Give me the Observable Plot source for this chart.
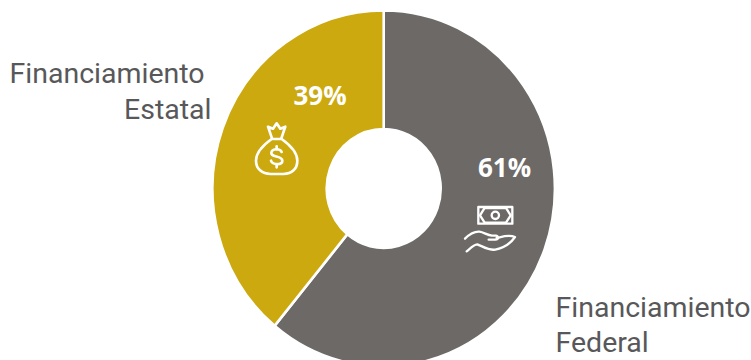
<!DOCTYPE html>
<html>
<head>
<meta charset="utf-8">
<script src="https://cdn.jsdelivr.net/npm/d3@7"></script>
<script src="https://cdn.jsdelivr.net/npm/@observablehq/plot@0.6"></script>
<style>
html,body{margin:0;padding:0;background:#fff;overflow:hidden}
svg{display:block}
</style>
</head>
<body>
<div id="chart"></div>
<script>
const categories = ["Financiamiento Federal", "Financiamiento Estatal"];
const shares = [61, 39];
const colors = ["#6d6967", "#cca90f"];
const pctLabels = ["61%", "39%"];

const W = 751, H = 360;
const C = {x: 383.7, y: 188.5, rx: 171.2, ry: 178.2, inner: 57};
const slices = categories.map((name, i) => ({name, share: shares[i]}));

const startRows = [
  {t: "Financiamiento", x: 9, y: 82},
  {t: "Financiamiento", x: 555, y: 316},
  {t: "Federal", x: 555, y: 351}
];
const endRows = [
  {t: "Estatal", x: 211, y: 118}
];
const pctRows = [
  {t: pctLabels[0], x: 504, y: 176},
  {t: pctLabels[1], x: 319.5, y: 104}
];

const bagIcon = `
<g transform="translate(240,70) scale(0.3333)" fill="none" stroke="#fff" stroke-width="8" stroke-linejoin="round" stroke-linecap="round">
<path d="M95,207 C70,225 48,248 48,272 C48,296 66,312 92,312 L130,312 C156,312 172,296 172,272 C172,248 150,225 125,207 Z"/>
<path d="M96,205 L84,170 L99,176 L110,160 L121,176 L136,170 L124,205"/>
<path d="M125,246 C120,234 95,235 94,249 C93,263 126,256 127,272 C127,286 98,286 93,272"/>
<path d="M110,229 V238 M110,285 V292"/>
</g>`;
const handIcon = `
<g transform="translate(450,140) scale(0.3333)" fill="none" stroke="#fff" stroke-width="7" stroke-linejoin="round" stroke-linecap="round">
<rect x="85" y="201" width="102" height="50"/>
<path d="M104,204 L90,226 L104,248 M168,204 L182,226 L168,248 M104,204 H168 M104,248 H168"/>
<circle cx="136" cy="226" r="11"/>
<path d="M45,296 C58,283 72,274 88,275 C102,277 112,286 126,287 L138,287 C146,289 146,298 136,299 L116,299"/>
<path d="M140,294 C158,290 176,283 195,291 C182,310 160,324 136,329 C116,332 96,318 82,313 C70,314 60,326 50,334"/>
</g>`;

function donut(index, scales, values, dimensions, context) {
  const g = d3.select(context.document.createElementNS("http://www.w3.org/2000/svg", "g"));
  const arcs = d3.pie().sort(null).value(i => slices[i].share)(index);
  const arc = d3.arc().innerRadius(C.inner).outerRadius(C.rx);
  const ratio = C.ry / C.rx;
  const root = g.append("g").attr("transform", `translate(${values.x[index[0]]},${values.y[index[0]]}) scale(1,${ratio})`);
  root.selectAll("path").data(arcs).join("path")
    .attr("d", arc)
    .attr("fill", d => values.fill[d.data])
    .attr("stroke", "#fff")
    .attr("stroke-width", 2.6);
  g.append("g").html(bagIcon + handIcon);
  return g.node();
}

const labelStyle = {x: "x", y: "y", text: "t", lineAnchor: "bottom",
  fontFamily: "Roboto", fontSize: 28.5, fill: "#58585a"};

const plot = Plot.plot({
  width: W, height: H,
  margin: 0,
  style: {background: "#fff"},
  x: {type: "identity", axis: null},
  y: {type: "identity", axis: null},
  color: {domain: categories, range: colors},
  marks: [
    Plot.dot(slices, {x: () => C.x, y: () => C.y, fill: "name", r: 1, render: donut}),
    Plot.text(startRows, {...labelStyle, textAnchor: "start"}),
    Plot.text(endRows, {...labelStyle, textAnchor: "end"}),
    Plot.text(pctRows, {x: "x", y: "y", text: "t", textAnchor: "middle", lineAnchor: "bottom",
      fontFamily: "Open Sans", fontWeight: 700, fontSize: 26, fill: "#fff"})
  ]
});
document.getElementById("chart").appendChild(plot);
</script>
</body>
</html>
